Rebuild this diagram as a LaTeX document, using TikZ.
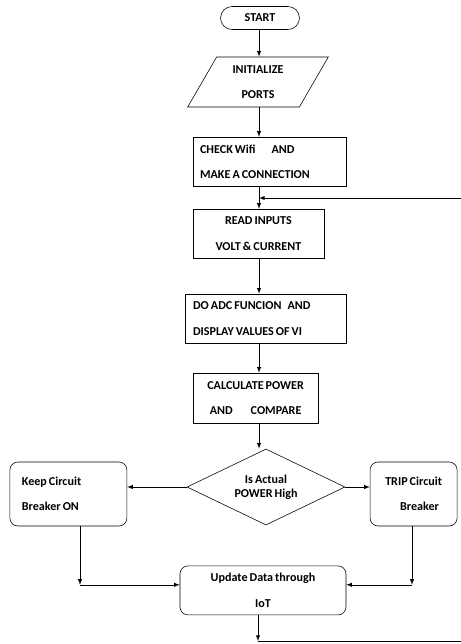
\documentclass[tikz,border=0pt]{standalone}
\usepackage{fontspec}
\setmainfont[WordSpace=0.75]{Carlito}
\usetikzlibrary{shapes.geometric}

\tikzset{
  txt/.style={font=\bfseries\fontsize{8.6}{10.2}\selectfont},
  term/.style={txt, draw, rounded corners=2.9mm, minimum width=1.975cm, minimum height=0.575cm, inner sep=0pt},
  io/.style={txt, draw, trapezium, trapezium left angle=62, trapezium right angle=118,
    trapezium stretches=true, minimum width=3.525cm, minimum height=1.25cm, inner sep=0pt, align=center},
  proc/.style={txt, draw, minimum height=1.225cm, inner sep=0pt, align=center},
  rproc/.style={proc, rounded corners=2mm},
  dec/.style={txt, draw, diamond, aspect=2.08, minimum width=3.95cm, minimum height=1.9cm, inner sep=0pt, align=center},
  arr/.style={->, >=latex}
}

\begin{document}
\begin{tikzpicture}
					\useasboundingbox (0,0) rectangle (11.525,-16.1);
					
					% Блоки
					\node[term] (start) at (6.5,-0.45) {START};
					\node[io] (init) at (6.45,-2.05) {INITIALIZE\\[8pt]PORTS};
					\node[proc, minimum width=3.825cm, text width=3.475cm, align=flush left] (check) at (6.74,-4.04)
						{CHECK Wifi\hspace{4mm}AND\\[8pt]MAKE A CONNECTION};
					\node[proc, minimum width=3.275cm] (read) at (6.46,-5.84) {READ INPUTS\\[8pt]VOLT \& CURRENT};
					\node[proc, minimum width=4.025cm, text width=3.625cm, align=flush left] (adc) at (6.64,-7.96)
						{DO ADC FUNCION\hspace{1.5mm}AND\\[8pt]DISPLAY VALUES OF VI};
					\node[proc, minimum width=3.125cm, minimum height=1.25cm] (calc) at (6.39,-9.95)
						{CALCULATE POWER\\[8pt]AND\hspace{4.5mm}COMPARE};
					\node[dec] (dia) at (6.65,-12.175) {Is Actual\\[0pt]POWER High};
					\node[rproc, minimum width=2.925cm, minimum height=1.6cm, text width=2.325cm, align=flush left] (keep) at (1.71,-12.35)
						{Keep Circuit\\[8pt]Breaker ON};
					\node[rproc, minimum width=2.175cm, minimum height=1.6cm] (trip) at (10.34,-12.35)
						{TRIP Circuit\\[8pt]\hspace{3mm}Breaker};
					\node[rproc, minimum width=4.15cm] (upd) at (6.575,-14.76) {Update Data through\\[8pt]IoT};
					
					% Вспомогательные точки
					\coordinate (sp) at (6.475,0);
					\coordinate (back) at (11.525,-4.95);
					\coordinate (lc) at (2.0,-14.62);
					\coordinate (rc) at (10.3,-14.62);
					\coordinate (bt) at (6.45,-16.025);
					\coordinate (br) at (11.525,-16.025);
					
					% Стрелки
					\draw[arr] (start.south -| sp) -- (init.north -| sp);
					\draw[arr] (init.south -| sp) -- (check.north -| sp);
					\draw[arr] (check.south -| sp) -- (read.north -| sp);
					\draw[arr] (back) -- (sp |- back);
					\draw[arr] (read.south -| sp) -- (adc.north -| sp);
					\draw[arr] (adc.south -| sp) -- (calc.north -| sp);
					\draw[arr] (calc.south -| sp) -- (dia.north -| sp);
					\draw[arr] (dia.west) -- (keep.east |- dia.west);
					\draw[arr] (dia.east) -- (trip.west |- dia.east);
					\draw[arr] (keep.south -| lc) -- (lc);
					\draw[arr] (lc) -- (upd.west |- lc);
					\draw[arr] (trip.south -| rc) -- (rc);
					\draw[arr] (rc) -- (upd.east |- rc);
					\draw[arr] (upd.south -| bt) -- (bt);
					\draw (bt) -- (br);
				\end{tikzpicture}
\end{document}
